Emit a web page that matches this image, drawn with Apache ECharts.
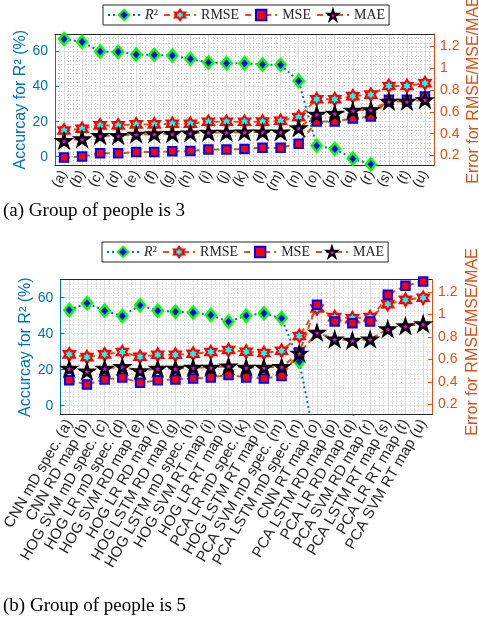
<!DOCTYPE html>
<html>
<head>
<meta charset="utf-8">
<script src="https://cdn.jsdelivr.net/npm/echarts@6/dist/echarts.min.js"></script>
<style>
  html, body { margin: 0; padding: 0; background: #fff; }
  #chart { width: 479px; height: 620px; }
</style>
</head>
<body>
<div id="chart"></div>
<script>
// Category labels
const letterLabels = ['(a)','(b)','(c)','(d)','(e)','(f)','(g)','(h)','(i)','(j)','(k)',
  '(l)','(m)','(n)','(o)','(p)','(q)','(r)','(s)','(t)','(u)'];
const methodLabels = ['CNN mD spec. (a)','CNN RD map (b)','HOG SVM mD spec. (c)','HOG LR mD spec. (d)',
  'HOG SVM RD map (e)','HOG LR RD map (f)','HOG LSTM RD map (g)','HOG LSTM mD spec. (h)',
  'HOG SVM RT map (i)','HOG LR RT map (j)','PCA LR mD spec. (k)','HOG LSTM RT map (l)',
  'PCA SVM mD spec. (m)','PCA LSTM mD spec. (n)','CNN RT map (o)','PCA LSTM RD map (p)',
  'PCA LR RD map (q)','PCA SVM RD map (r)','PCA LSTM RT map (s)','PCA LR RT map (t)','PCA SVM RT map (u)'];

// Group of people = 3
const r2Group3   = [67.1, 65.5, 60.0, 59.8, 58.3, 58.1, 57.7, 55.8, 53.7, 53.3, 53.3, 52.6, 52.4, 43.2, 6.3, 4.5, -1.1, -4.3, -20, -24, -28];
const rmseGroup3 = [0.430, 0.445, 0.476, 0.476, 0.485, 0.485, 0.491, 0.491, 0.509, 0.509, 0.509, 0.510, 0.518, 0.552, 0.715, 0.715, 0.742, 0.757, 0.836, 0.836, 0.861];
const mseGroup3  = [0.182, 0.191, 0.221, 0.221, 0.233, 0.233, 0.239, 0.242, 0.255, 0.255, 0.261, 0.273, 0.273, 0.309, 0.512, 0.512, 0.540, 0.557, 0.709, 0.709, 0.739];
const maeGroup3  = [0.336, 0.352, 0.382, 0.382, 0.394, 0.397, 0.400, 0.406, 0.412, 0.412, 0.415, 0.415, 0.415, 0.452, 0.576, 0.585, 0.612, 0.618, 0.694, 0.694, 0.709];

// Group of people = 5
const r2Group5   = [53.2, 56.9, 52.8, 49.8, 55.8, 52.8, 52.2, 51.7, 50.4, 46.7, 50.0, 51.3, 48.6, 24.4, -24.5, -12, -5.3, -13, -20, -22, -25];
const rmseGroup5 = [0.646, 0.622, 0.646, 0.667, 0.625, 0.643, 0.643, 0.652, 0.667, 0.685, 0.670, 0.658, 0.679, 0.810, 1.054, 0.977, 0.968, 0.977, 1.093, 1.131, 1.149];
const mseGroup5  = [0.417, 0.379, 0.423, 0.441, 0.393, 0.417, 0.423, 0.432, 0.441, 0.464, 0.441, 0.432, 0.453, 0.664, 1.087, 0.938, 0.923, 0.938, 1.176, 1.256, 1.295];
const maeGroup5  = [0.521, 0.497, 0.521, 0.536, 0.500, 0.521, 0.521, 0.530, 0.530, 0.542, 0.530, 0.530, 0.536, 0.655, 0.841, 0.781, 0.770, 0.781, 0.872, 0.899, 0.917];

// Tick values
const leftTicks  = [0, 20, 40, 60];
const rightTicks = [0.2, 0.4, 0.6, 0.8, 1, 1.2];

const SANS  = '"Liberation Sans", Arial, Helvetica, sans-serif';
const SERIF = '"Liberation Serif", "Times New Roman", serif';
const BLUE = '#0072BD', ORANGE = '#D95319', INK = '#262626';

// Marker shapes: six-pointed and five-pointed stars
const HEXAGRAM  = 'path://M50,0L64.43,25L93.3,25L78.87,50L93.3,75L64.43,75L50,100L35.57,75L6.7,75L21.13,50L6.7,25L35.57,25Z';
const PENTAGRAM = 'path://M50,0L61.23,34.55L97.55,34.55L68.17,55.9L79.39,90.45L50,69.1L20.61,90.45L31.83,55.9L2.45,34.55L38.77,34.55Z';

const panels = [
  { grid: { left: 55, top: 34, width: 379, height: 131.5 }, cats: letterLabels, labelSize: 14,
    r2: r2Group3, rmse: rmseGroup3, mse: mseGroup3, mae: maeGroup3, leftGap: 26,
    rightName: { x: 474, y: 90 },
    legend: { left: 103, top: 5 }, title: '(a) Group of people is 3', titleTop: 202 },
  { grid: { left: 60, top: 279.7, width: 372, height: 135 }, cats: methodLabels, labelSize: 15,
    r2: r2Group5, rmse: rmseGroup5, mse: mseGroup5, mae: maeGroup5, leftGap: 27,
    rightName: { x: 473, y: 342 },
    legend: { left: 102, top: 242 }, title: '(b) Group of people is 5', titleTop: 596.5 }
];

const option = {
  animation: false,
  backgroundColor: '#fff',
  grid: [], xAxis: [], yAxis: [], series: [], legend: [], title: [], graphic: []
};

const dotted = { color: '#cdcdcd', width: 1, type: [1, 2] };

panels.forEach((p, i) => {
  const base = 3 * i;
  option.grid.push(Object.assign({ containLabel: false }, p.grid));

  option.title.push({
    text: p.title, left: 3, top: p.titleTop, padding: 0,
    textStyle: { fontFamily: SERIF, fontSize: 19, fontWeight: 'normal', color: '#000' }
  });

  // right-hand axis title, running bottom-to-top against the figure edge
  option.graphic.push({
    type: 'text', x: p.rightName.x, y: p.rightName.y, rotation: Math.PI / 2, silent: true,
    style: { text: 'Error for RMSE/MSE/MAE', fill: ORANGE, font: '16px ' + SANS,
             align: 'center', verticalAlign: 'middle' }
  });

  option.legend.push({
    data: ['R2', 'RMSE', 'MSE', 'MAE'],
    left: p.legend.left, top: p.legend.top,
    itemWidth: 32, itemHeight: 13, itemGap: 5,
    padding: [3, 4, 3, 4],
    borderColor: INK, borderWidth: 1, backgroundColor: '#fff',
    selectedMode: false,
    formatter: n => n === 'R2' ? '{it|R}{sup|2}' : n,
    textStyle: {
      fontFamily: SERIF, fontSize: 14, color: INK,
      rich: {
        it: { fontFamily: SERIF, fontStyle: 'italic', fontSize: 14, color: INK },
        sup: { fontFamily: SERIF, fontSize: 9, color: INK, verticalAlign: 'top', lineHeight: 9 }
      }
    }
  });

  // x axes: labelled bottom, top frame with ticks, hidden dotted minor grid
  option.xAxis.push({
    type: 'category', gridIndex: i, data: p.cats, position: 'bottom', boundaryGap: true, z: 1,
    axisLine: { onZero: false, lineStyle: { color: INK, width: 1 } },
    axisTick: { inside: true, alignWithLabel: true, length: 4, lineStyle: { color: INK } },
    axisLabel: { interval: 0, rotate: 60, margin: 6, fontSize: p.labelSize, fontFamily: SANS, color: INK },
    splitLine: { show: true, alignWithLabel: true, lineStyle: { color: '#dadada', width: 1 } }
  });
  option.xAxis.push({
    type: 'category', gridIndex: i, data: p.cats, position: 'top', boundaryGap: true, z: 1,
    axisLine: { onZero: false, lineStyle: { color: INK, width: 1 } },
    axisTick: { inside: true, alignWithLabel: true, length: 4, lineStyle: { color: INK } },
    axisLabel: { show: false }, splitLine: { show: false }
  });
  option.xAxis.push({
    type: 'value', gridIndex: i, min: 0.5, max: p.cats.length + 0.5, interval: 0.25, z: 0,
    axisLine: { show: false }, axisTick: { show: false }, axisLabel: { show: false },
    splitLine: { show: true, lineStyle: dotted }
  });

  // y axes: left (R2), right (errors), hidden dotted minor grid
  option.yAxis.push({
    type: 'value', gridIndex: i, position: 'left', min: -5, max: 70, z: 1,
    axisLine: { show: true, onZero: false, lineStyle: { color: BLUE, width: 1 } },
    axisTick: { show: true, inside: true, length: 4, customValues: leftTicks, lineStyle: { color: BLUE } },
    axisLabel: { customValues: leftTicks, color: BLUE, fontSize: 14, fontFamily: SANS, margin: 7 },
    splitLine: { show: true, lineStyle: { color: '#dbe4ec', width: 1 } },
    name: 'Accurcay for R² (%)', nameLocation: 'middle', nameGap: p.leftGap, nameRotate: 90,
    nameMoveOverlap: false,
    nameTextStyle: { color: BLUE, fontSize: 16, fontFamily: SANS }
  });
  option.yAxis.push({
    type: 'value', gridIndex: i, position: 'right', min: 0.11, max: 1.31, z: 1,
    axisLine: { show: true, onZero: false, lineStyle: { color: ORANGE, width: 1 } },
    axisTick: { show: true, inside: true, length: 4, customValues: rightTicks, lineStyle: { color: ORANGE } },
    axisLabel: { customValues: rightTicks, color: ORANGE, fontSize: 14, fontFamily: SANS, margin: 6,
                 formatter: v => String(Math.round(v * 10) / 10) },
    splitLine: { show: false }
  });
  option.yAxis.push({
    type: 'value', gridIndex: i, min: -5, max: 70, interval: 2.5, z: 0,
    axisLine: { show: false }, axisTick: { show: false }, axisLabel: { show: false },
    splitLine: { show: true, lineStyle: dotted }
  });

  const common = { type: 'line', xAxisIndex: base, clip: true, emphasis: { disabled: true } };
  option.series.push(Object.assign({}, common, {
    name: 'R2', yAxisIndex: base, data: p.r2,
    symbol: 'diamond', symbolSize: [10, 12],
    lineStyle: { color: BLUE, width: 2, type: [2, 3] },
    itemStyle: { color: '#0000FF', borderColor: '#00FF00', borderWidth: 2.5 }
  }));
  option.series.push(Object.assign({}, common, {
    name: 'RMSE', yAxisIndex: base + 1, data: p.rmse,
    symbol: HEXAGRAM, symbolSize: [11, 12.5],
    lineStyle: { color: ORANGE, width: 2, type: [6, 4] },
    itemStyle: { color: '#00FFFF', borderColor: '#FF0000', borderWidth: 2.2 }
  }));
  option.series.push(Object.assign({}, common, {
    name: 'MSE', yAxisIndex: base + 1, data: p.mse,
    symbol: 'rect', symbolSize: 8.5,
    lineStyle: { color: ORANGE, width: 2, type: [6, 4] },
    itemStyle: { color: '#FF0000', borderColor: '#0000FF', borderWidth: 2 }
  }));
  option.series.push(Object.assign({}, common, {
    name: 'MAE', yAxisIndex: base + 1, data: p.mae,
    symbol: PENTAGRAM, symbolSize: [13, 12.4],
    lineStyle: { color: ORANGE, width: 2, type: [6, 4] },
    itemStyle: { color: '#FF00FF', borderColor: '#000000', borderWidth: 2.5 }
  }));
});

const chart = echarts.init(document.getElementById('chart'), null, { renderer: 'canvas' });
chart.setOption(option);
</script>
</body>
</html>
